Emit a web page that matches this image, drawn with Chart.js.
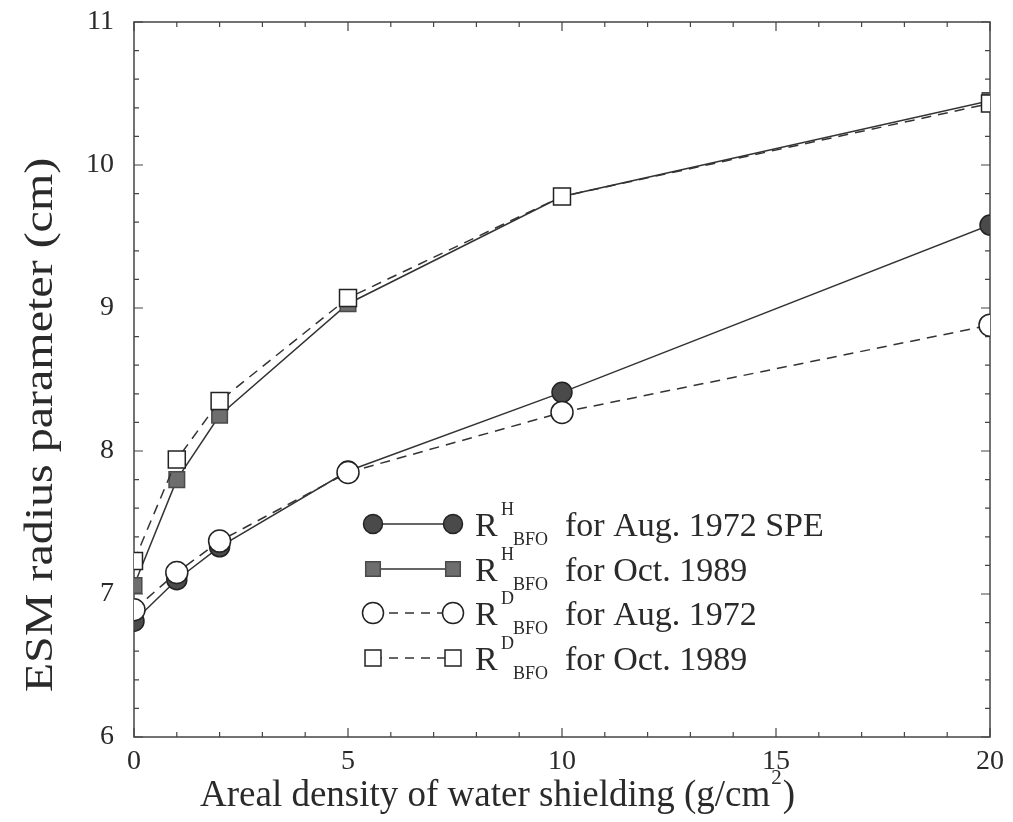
<!DOCTYPE html>
<html>
<head>
<meta charset="utf-8">
<script src="https://cdn.jsdelivr.net/npm/chart.js@4.4.0/dist/chart.umd.min.js"></script>
<style>
  html, body { margin: 0; padding: 0; background: #fff; }
  #wrap { width: 1013px; height: 822px; }
</style>
</head>
<body>
<div id="wrap"><canvas id="chart" width="1013" height="822"></canvas></div>
<script>
// areal density of water shielding (g/cm^2)
const shielding = [0, 1, 2, 5, 10, 20];

// ESM radius parameter (cm)
const rH1972 = [6.81, 7.10, 7.33, 7.86, 8.41, 9.58];
const rH1989 = [7.06, 7.80, 8.25, 9.03, 9.78, 10.45];
const rD1972 = [6.89, 7.15, 7.37, 7.85, 8.27, 8.88];
const rD1989 = [7.23, 7.94, 8.35, 9.07, 9.78, 10.43];

const xTicks = [0, 5, 10, 15, 20];
const yTicks = [6, 7, 8, 9, 10, 11];

const legendSup = ["H", "H", "D", "D"];
const legendText = ["for Aug. 1972 SPE", "for Oct. 1989", "for Aug. 1972", "for Oct. 1989"];

const SERIF = "'Liberation Serif', 'Times New Roman', serif";
const INK = "#2a2a2a";

const styles = [
  { shape: "circle", radius: 10, fill: "#4a4a4a", stroke: "#222222", dash: [] },
  { shape: "rect", radius: 11, fill: "#6e6e6e", stroke: "#4a4a4a", dash: [] },
  { shape: "circle", radius: 11, fill: "#ffffff", stroke: "#222222", dash: [10, 7] },
  { shape: "rect", radius: 12, fill: "#ffffff", stroke: "#222222", dash: [10, 7] },
];

function toPoints(ys) {
  return shielding.map((x, i) => ({ x: x, y: ys[i] }));
}

function makeDataset(label, ys, st, order) {
  return {
    label: label,
    data: toPoints(ys),
    borderColor: "#333333",
    borderWidth: 1.5,
    borderDash: st.dash,
    pointStyle: st.shape,
    pointRadius: st.radius,
    pointHoverRadius: st.radius,
    pointBackgroundColor: st.fill,
    pointBorderColor: st.stroke,
    pointBorderWidth: 1.5,
    tension: 0,
    fill: false,
    order: order,
  };
}

// frame with inward ticks on all four sides
const framePlugin = {
  id: "frame",
  beforeDatasetsDraw(chart) {
    const { ctx, chartArea: a, scales } = chart;
    const xs = scales.x, ys = scales.y;
    ctx.save();
    ctx.strokeStyle = "#444";
    ctx.lineWidth = 1.5;
    ctx.strokeRect(a.left, a.top, a.right - a.left, a.bottom - a.top);
    ctx.lineWidth = 1.2;
    ctx.beginPath();
    for (let v = 0; v <= 20; v += 1) {
      const px = xs.getPixelForValue(v);
      const len = v % 5 === 0 ? 9 : 5;
      ctx.moveTo(px, a.bottom); ctx.lineTo(px, a.bottom - len);
      ctx.moveTo(px, a.top); ctx.lineTo(px, a.top + len);
    }
    for (let i = 0; i <= 25; i++) {
      const v = 6 + i * 0.2;
      const py = ys.getPixelForValue(v);
      const len = i % 5 === 0 ? 9 : 5;
      ctx.moveTo(a.left, py); ctx.lineTo(a.left + len, py);
      ctx.moveTo(a.right, py); ctx.lineTo(a.right - len, py);
    }
    ctx.stroke();
    ctx.restore();
  },
};

function drawMarker(ctx, st, x, y) {
  ctx.save();
  ctx.setLineDash([]);
  ctx.fillStyle = st.fill;
  ctx.strokeStyle = st.stroke;
  ctx.lineWidth = 1.5;
  ctx.beginPath();
  if (st.shape === "circle") {
    ctx.arc(x, y, st.radius - 0.5, 0, Math.PI * 2);
  } else {
    const h = st.radius * Math.SQRT1_2 - 0.5;
    ctx.rect(x - h, y - h, 2 * h, 2 * h);
  }
  ctx.fill();
  ctx.stroke();
  ctx.restore();
}

// legend and axis titles (sub/superscripts need manual text)
const textPlugin = {
  id: "texts",
  afterDraw(chart) {
    const ctx = chart.ctx;
    ctx.save();
    ctx.fillStyle = INK;
    ctx.textBaseline = "alphabetic";

    const rows = [524, 569, 613, 658];
    rows.forEach((yc, i) => {
      const st = styles[i];
      ctx.save();
      ctx.strokeStyle = "#333";
      ctx.lineWidth = 1.5;
      ctx.setLineDash(i < 2 ? [] : [9, 7]);
      ctx.beginPath();
      ctx.moveTo(373, yc);
      ctx.lineTo(453, yc);
      ctx.stroke();
      ctx.restore();
      drawMarker(ctx, st, 373, yc);
      drawMarker(ctx, st, 453, yc);

      ctx.font = "34px " + SERIF;
      ctx.fillText("R", 475, yc + 12);
      ctx.font = "18px " + SERIF;
      ctx.fillText(legendSup[i], 501, yc - 9);
      ctx.fillText("BFO", 513, yc + 21);
      ctx.font = "34px " + SERIF;
      ctx.fillText(legendText[i], 565, yc + 12);
    });

    // x title
    ctx.font = "37px " + SERIF;
    const xt = "Areal density of water shielding (g/cm";
    let x0 = 200;
    ctx.fillText(xt, x0, 806);
    x0 += ctx.measureText(xt).width;
    ctx.font = "21px " + SERIF;
    ctx.fillText("2", x0 + 1, 784);
    x0 += ctx.measureText("2").width + 2;
    ctx.font = "37px " + SERIF;
    ctx.fillText(")", x0, 806);

    // y title (scan is slightly stretched vertically)
    ctx.translate(52, 425);
    ctx.rotate(-Math.PI / 2);
    ctx.scale(1.2, 1);
    ctx.textAlign = "center";
    ctx.font = "40px " + SERIF;
    ctx.fillText("ESM radius parameter (cm)", 0, 0);
    ctx.restore();
  },
};

new Chart(document.getElementById("chart"), {
  type: "line",
  data: {
    datasets: [
      makeDataset("R^H_BFO for Aug. 1972 SPE", rH1972, styles[0], 2),
      makeDataset("R^H_BFO for Oct. 1989", rH1989, styles[1], 3),
      makeDataset("R^D_BFO for Aug. 1972", rD1972, styles[2], 0),
      makeDataset("R^D_BFO for Oct. 1989", rD1989, styles[3], 1),
    ],
  },
  options: {
    responsive: false,
    animation: false,
    layout: { padding: { top: 22, right: 23, left: 0, bottom: 0 } },
    plugins: {
      legend: { display: false },
      tooltip: { enabled: false },
    },
    scales: {
      x: {
        type: "linear",
        min: 0,
        max: 20,
        grid: { display: false, drawTicks: false },
        border: { display: false },
        afterBuildTicks: (s) => { s.ticks = xTicks.map((v) => ({ value: v })); },
        afterFit: (s) => { s.height = 85; s.paddingLeft = 0; s.paddingRight = 0; },
        ticks: {
          color: INK,
          padding: 8,
          maxRotation: 0,
          font: { family: SERIF, size: 28 },
        },
      },
      y: {
        type: "linear",
        min: 6,
        max: 11,
        grid: { display: false, drawTicks: false },
        border: { display: false },
        afterBuildTicks: (s) => { s.ticks = yTicks.map((v) => ({ value: v })); },
        afterFit: (s) => { s.width = 134; s.paddingTop = 0; s.paddingBottom = 0; },
        ticks: {
          color: INK,
          padding: 20,
          font: { family: SERIF, size: 28 },
        },
      },
    },
  },
  plugins: [framePlugin, textPlugin],
});
</script>
</body>
</html>
